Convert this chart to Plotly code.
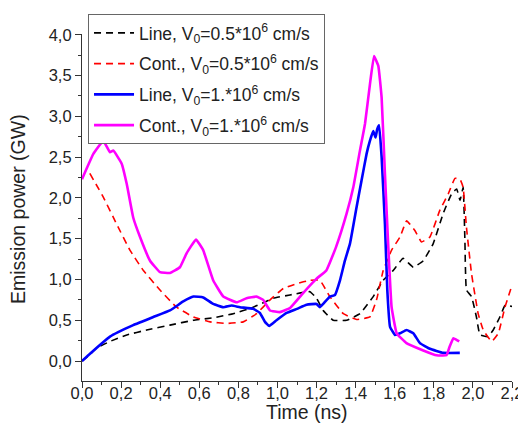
import plotly.graph_objects as go

# Line, V0=0.5e6 cm/s (black dashed)
t_line05 = [0.0, 0.04, 0.075, 0.143, 0.229, 0.331, 0.45, 0.57, 0.671, 0.774, 0.876, 0.979, 1.064, 1.166, 1.20,
            1.234, 1.285, 1.354, 1.422, 1.49, 1.541, 1.592, 1.643, 1.695, 1.746, 1.797, 1.848, 1.891, 1.917,
            1.934, 1.95, 1.959, 1.967, 1.993, 2.018, 2.036, 2.078, 2.104, 2.138, 2.164, 2.2]
p_line05 = [0.0, 0.08, 0.16, 0.24, 0.32, 0.38, 0.44, 0.50, 0.53, 0.58, 0.66, 0.77, 0.81, 0.85, 0.77,
            0.62, 0.50, 0.50, 0.58, 0.79, 0.99, 1.11, 1.26, 1.15, 1.23, 1.44, 1.81, 2.05, 2.11,
            1.97, 2.13, 1.48, 0.87, 0.79, 0.54, 0.32, 0.30, 0.38, 0.54, 0.68, 0.67]

# Cont., V0=0.5e6 cm/s (red dashed)
t_cont05 = [0.04, 0.109, 0.177, 0.245, 0.314, 0.399, 0.484, 0.57, 0.655, 0.74, 0.825, 0.893, 0.962, 1.03,
            1.10, 1.166, 1.217, 1.268, 1.337, 1.405, 1.473, 1.507, 1.541, 1.584, 1.627, 1.661, 1.703, 1.737,
            1.78, 1.831, 1.874, 1.908, 1.934, 1.95, 1.967, 1.993, 2.027, 2.053, 2.096, 2.13, 2.164, 2.2]
p_cont05 = [2.30, 2.01, 1.68, 1.36, 1.11, 0.87, 0.66, 0.54, 0.48, 0.46, 0.48, 0.58, 0.75, 0.89,
            0.95, 0.99, 0.99, 0.79, 0.58, 0.51, 0.54, 0.75, 1.11, 1.36, 1.52, 1.72, 1.60, 1.46,
            1.52, 1.85, 2.05, 2.24, 2.23, 2.13, 1.64, 1.07, 0.58, 0.38, 0.24, 0.34, 0.66, 0.93]

# Line, V0=1e6 cm/s (blue solid)
t_line1 = [0.0, 0.041, 0.143, 0.262, 0.365, 0.45, 0.518, 0.57, 0.62, 0.671, 0.723, 0.765, 0.808, 0.876,
           0.91, 0.936, 0.958, 0.995, 1.047, 1.10, 1.149, 1.20, 1.217, 1.234, 1.268, 1.294, 1.32, 1.345,
           1.371, 1.405, 1.43, 1.456, 1.473, 1.49, 1.502, 1.51, 1.52, 1.533, 1.55, 1.562, 1.576, 1.601,
           1.627, 1.661, 1.695, 1.729, 1.78, 1.848, 1.933]
p_line1 = [0.0, 0.09, 0.30, 0.44, 0.54, 0.62, 0.73, 0.79, 0.78, 0.70, 0.66, 0.68, 0.66, 0.64,
           0.59, 0.48, 0.43, 0.50, 0.59, 0.64, 0.69, 0.70, 0.66, 0.70, 0.79, 0.81, 0.99, 1.23,
           1.44, 1.89, 2.21, 2.54, 2.70, 2.82, 2.74, 2.84, 2.89, 2.50, 1.68, 0.87, 0.42, 0.32,
           0.34, 0.38, 0.34, 0.22, 0.15, 0.10, 0.10]

# Cont., V0=1e6 cm/s (magenta solid)
t_cont1 = [0.0, 0.058, 0.109, 0.143, 0.16, 0.203, 0.229, 0.262, 0.297, 0.348, 0.399, 0.45, 0.501, 0.535,
           0.583, 0.62, 0.671, 0.723, 0.791, 0.842, 0.893, 0.927, 0.962, 1.013, 1.064, 1.13, 1.20, 1.25,
           1.30, 1.354, 1.388, 1.422, 1.448, 1.473, 1.494, 1.516, 1.533, 1.55, 1.567, 1.584, 1.61, 1.66,
           1.746, 1.814, 1.865, 1.88, 1.90, 1.916, 1.93]
p_cont1 = [2.23, 2.54, 2.70, 2.56, 2.58, 2.42, 2.17, 1.76, 1.52, 1.23, 1.09, 1.08, 1.15, 1.32,
           1.49, 1.36, 0.99, 0.79, 0.72, 0.77, 0.79, 0.75, 0.62, 0.60, 0.65, 0.83, 1.01, 1.11,
           1.40, 1.81, 2.13, 2.58, 2.91, 3.39, 3.74, 3.62, 3.23, 2.29, 1.40, 0.66, 0.34, 0.22,
           0.13, 0.07, 0.07, 0.17, 0.28, 0.26, 0.24]

names = ["Line, V<sub>0</sub>=0.5*10<sup>6</sup> cm/s",
         "Cont., V<sub>0</sub>=0.5*10<sup>6</sup> cm/s",
         "Line, V<sub>0</sub>=1.*10<sup>6</sup> cm/s",
         "Cont., V<sub>0</sub>=1.*10<sup>6</sup> cm/s"]

x_ticks = [0, 0.2, 0.4, 0.6, 0.8, 1.0, 1.2, 1.4, 1.6, 1.8, 2.0, 2.2]
y_ticks = [0, 0.5, 1.0, 1.5, 2.0, 2.5, 3.0, 3.5, 4.0]
x_title = "Time (ns)"
y_title = "Emission power (GW)"

fig = go.Figure()
fig.add_trace(go.Scatter(x=t_line05, y=p_line05, mode="lines", name=names[0], legendgroup="a",
                         line=dict(color="black", width=1.6, dash="7px,5px", shape="spline", smoothing=0.3)))
fig.add_trace(go.Scatter(x=t_cont05, y=p_cont05, mode="lines", name=names[1], legendgroup="b",
                         line=dict(color="#ff0000", width=1.6, dash="7px,5px", shape="spline", smoothing=0.3)))
fig.add_trace(go.Scatter(x=t_line1, y=p_line1, mode="lines", name=names[2], legendgroup="c",
                         line=dict(color="#0000ff", width=2.6, shape="spline", smoothing=0.3)))
fig.add_trace(go.Scatter(x=t_cont1, y=p_cont1, mode="lines", name=names[3], legendgroup="d",
                         line=dict(color="#ff00ff", width=2.6, shape="spline", smoothing=0.3)))
# invisible helper trace so that the label-only x axis (x2) is drawn
fig.add_trace(go.Scatter(x=t_line05, y=p_line05, xaxis="x2", yaxis="y", mode="lines", opacity=0,
                         showlegend=False, hoverinfo="skip", line=dict(color="rgba(0,0,0,0)")))

font = "Liberation Sans, Arial, sans-serif"
# The page body has an 8px margin, so the figure is 8px smaller than the window
fig.update_layout(
    width=518, height=424,
    margin=dict(l=74, r=14, t=6, b=51),
    paper_bgcolor="white", plot_bgcolor="white",
    separators=",.",
    font=dict(family=font, size=16, color="#222"),
    showlegend=True,
    legend=dict(x=0.014, y=1.0, xanchor="left", yanchor="top",
                bordercolor="#666", borderwidth=1, bgcolor="white",
                font=dict(size=17.5, color="#222"), tracegroupgap=5, itemwidth=40),
    xaxis=dict(range=[0, 2.2], tickvals=x_ticks, automargin=False, showticklabels=False,
               ticks="outside", ticklen=6, tickwidth=1.2, tickcolor="#333",
               showline=True, linecolor="#333", linewidth=1.2, showgrid=False, zeroline=False,
               minor=dict(ticks="outside", ticklen=3, tickcolor="#333", dtick=0.1, showgrid=False)),
    # tick labels of the x axis, placed a little closer to the axis line
    xaxis2=dict(range=[0, 2.2], tickvals=x_ticks, tickformat=".1f", overlaying="x",
                anchor="free", position=0, side="bottom", automargin=False,
                ticks="", showline=False, showgrid=False, zeroline=False,
                tickfont=dict(size=16.5)),
    yaxis=dict(range=[-0.245, 4.01], tickvals=y_ticks, automargin=False, domain=[0, 0.9455],
               tickformat=".1f", ticks="outside", ticklen=6, tickwidth=1.2, tickcolor="#333",
               showline=True, linecolor="#333", linewidth=1.2, showgrid=False, zeroline=False,
               minor=dict(ticks="outside", ticklen=3, tickcolor="#333", dtick=0.25, showgrid=False),
               tickfont=dict(size=16.5)),
    annotations=[
        dict(text=x_title, xref="paper", yref="paper", x=0.5, y=0, xanchor="center", yanchor="middle",
             xshift=10, yshift=-31, showarrow=False, font=dict(size=19.5, color="#222")),
        dict(text=y_title, xref="paper", yref="paper", x=0, y=0.4728, xanchor="center", yanchor="middle",
             xshift=-63.5, yshift=-2, textangle=-90, showarrow=False, font=dict(size=19.5, color="#222")),
    ],
)
fig.write_html("out.html")
